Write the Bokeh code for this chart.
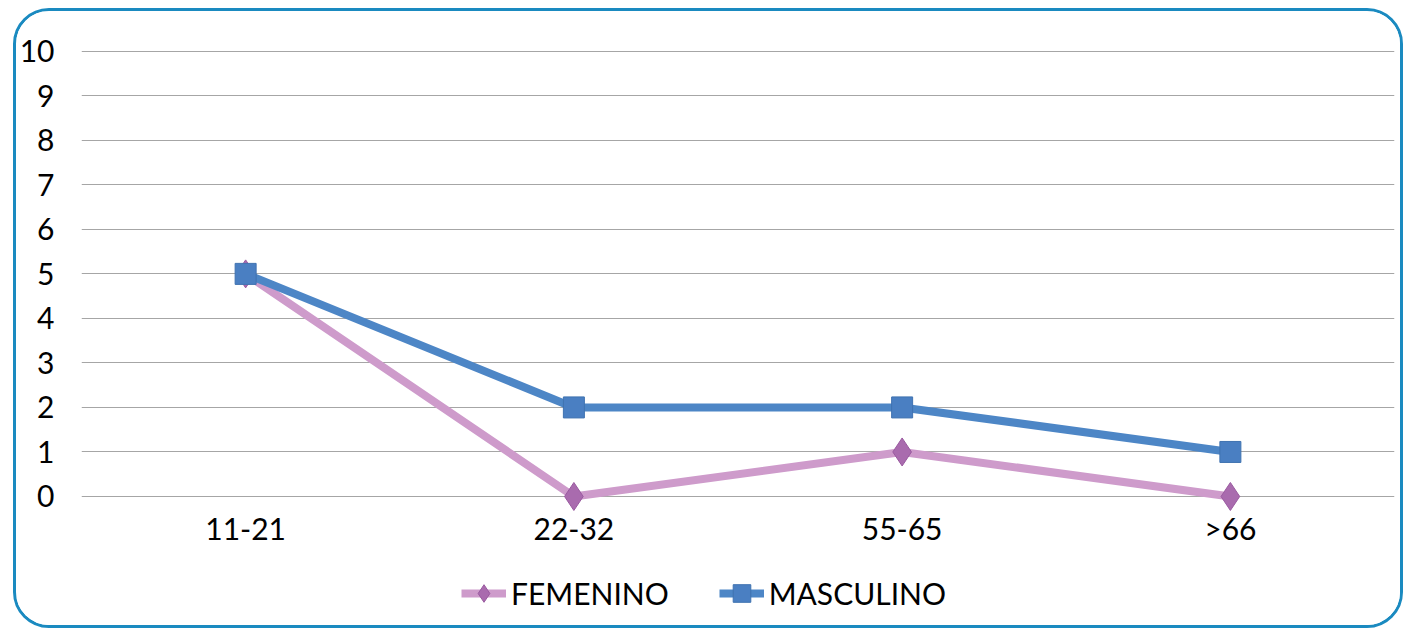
from bokeh.plotting import figure
from bokeh.layouts import column
from bokeh.models import Range1d, FixedTicker, Legend, LegendItem
from bokeh.embed import file_html
from bokeh.resources import INLINE

categories = ["11-21", "22-32", "55-65", ">66"]
femenino = [5, 0, 1, 0]
masculino = [5, 2, 2, 1]
y_ticks = [0, 1, 2, 3, 4, 5, 6, 7, 8, 9, 10]

FONT = "Lato"
FS = "30px"
W = 1384

F_LINE, F_FILL, F_EDGE = "#CE9BCB", "#A96BAE", "#9A5AA0"
M_LINE, M_FILL, M_EDGE = "#4D86C6", "#4A7FC2", "#3F72B0"

p = figure(x_range=categories, y_range=Range1d(-0.36, 10.04),
           width=W, height=541, output_backend="svg", toolbar_location=None,
           min_border_left=65, min_border_right=6, min_border_top=38, min_border_bottom=40)
p.outline_line_color = None
p.xgrid.grid_line_color = None
p.ygrid.ticker = FixedTicker(ticks=y_ticks)
p.ygrid.grid_line_color = "#A6A6A6"
p.ygrid.grid_line_width = 1

for ax in (p.xaxis[0], p.yaxis[0]):
    ax.axis_line_color = None
    ax.major_tick_line_color = None
    ax.minor_tick_line_color = None
    ax.major_label_text_font = FONT
    ax.major_label_text_font_size = FS
    ax.major_label_text_color = "black"
p.yaxis.ticker = FixedTicker(ticks=y_ticks)
p.yaxis.major_label_standoff = 21
p.xaxis.major_label_standoff = -9

p.line(categories, femenino, line_color=F_LINE, line_width=8)
p.scatter(categories, femenino, marker="diamond", size=28,
          fill_color=F_FILL, line_color=F_EDGE, line_width=1)
p.line(categories, masculino, line_color=M_LINE, line_width=8)
p.scatter(categories, masculino, marker="square", size=21,
          fill_color=M_FILL, line_color=M_EDGE, line_width=1)

# legend strip (same series, drawn out of view so only the legend shows)
lg = figure(x_range=categories, y_range=Range1d(100, 101),
            width=W, height=73, output_backend="svg", toolbar_location=None,
            x_axis_location=None, y_axis_location=None,
            min_border_left=0, min_border_right=0, min_border_top=0, min_border_bottom=0)
lg.outline_line_color = None
lg.grid.grid_line_color = None
fl = lg.line(categories, femenino, line_color=F_LINE, line_width=8)
fm = lg.scatter(categories, femenino, marker="diamond", size=28,
                fill_color=F_FILL, line_color=F_EDGE, line_width=1)
ml = lg.line(categories, masculino, line_color=M_LINE, line_width=8)
mm = lg.scatter(categories, masculino, marker="square", size=21,
                fill_color=M_FILL, line_color=M_EDGE, line_width=1)

legend = Legend(items=[LegendItem(label="FEMENINO", renderers=[fl, fm]),
                       LegendItem(label="MASCULINO", renderers=[ml, mm])],
                orientation="horizontal", location=(380, 10),
                label_text_font=FONT, label_text_font_size=FS, label_text_color="black",
                glyph_width=45, glyph_height=44, label_standoff=5, spacing=50,
                border_line_color=None, background_fill_alpha=0,
                padding=0, margin=0)
lg.add_layout(legend)

layout = column(p, lg, spacing=0, margin=(8, 0, 0, 13),
                styles={"border": "3px solid #1A8AC0", "border-radius": "36px",
                        "overflow": "hidden"})

open("out.html", "w").write(file_html(layout, INLINE))
